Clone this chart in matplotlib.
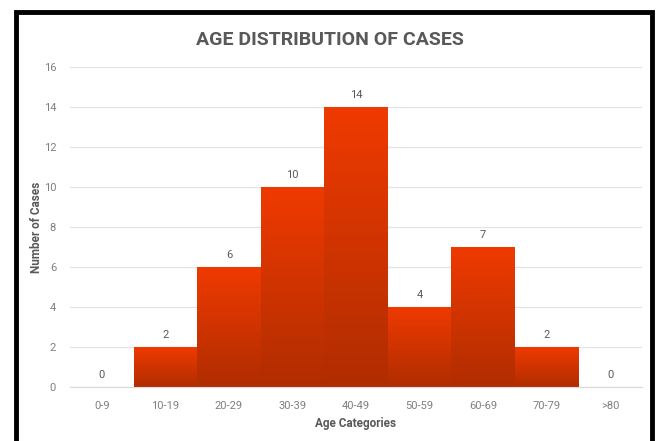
import matplotlib.pyplot as plt
import numpy as np
from matplotlib.patches import Rectangle
from matplotlib.colors import LinearSegmentedColormap

plt.rcParams['font.family'] = ['Roboto', 'DejaVu Sans']

categories = ['0-9', '10-19', '20-29', '30-39', '40-49', '50-59', '60-69', '70-79', '>80']
cases = [0, 2, 6, 10, 14, 4, 7, 2, 0]

fig = plt.figure(figsize=(6.59, 4.41), dpi=100)
ax = fig.add_axes([70 / 659, 1 - 387 / 441, 572 / 659, 320 / 441])

# gradient per bar: bright on top, darker at the bottom
cmap = LinearSegmentedColormap.from_list('bar', ['#B02D00', '#EF3A00'])
grad = np.linspace(0, 1, 256).reshape(-1, 1)
x = np.arange(len(categories))
for xi, h in zip(x, cases):
    if h <= 0:
        continue
    rect = Rectangle((xi - 0.5, 0), 1.0, h, facecolor='none', edgecolor='none')
    ax.add_patch(rect)
    im = ax.imshow(grad, cmap=cmap, origin='lower', aspect='auto',
                   extent=(xi - 0.5, xi + 0.5, 0, h), zorder=2)
    im.set_clip_path(rect)

for xi, h in zip(x, cases):
    ax.text(xi, h + 0.35, str(h), ha='center', va='bottom', fontsize=8, color='#595959')

ax.set_xlim(-0.5, len(categories) - 0.5)
ax.set_ylim(0, 16)
ax.set_yticks(range(0, 17, 2))
ax.set_xticks(x)
ax.set_xticklabels(categories)
ax.grid(axis='y', color='#e3e3e3', linewidth=0.9, zorder=0)
ax.set_axisbelow(True)
for s in ['top', 'right', 'left']:
    ax.spines[s].set_visible(False)
ax.spines['bottom'].set_color('#d9d9d9')
ax.tick_params(axis='both', length=0, labelsize=8, colors='#7f7f7f')
ax.tick_params(axis='x', pad=10)
ax.tick_params(axis='y', pad=10)

ax.set_xlabel('Age Categories', fontsize=8.5, fontweight='bold', color='#595959')
ax.set_ylabel('Number of Cases', fontsize=8.5, fontweight='bold', color='#595959')
ax.xaxis.set_label_coords(0.5, -30 / 320)
ax.yaxis.set_label_coords(-27 / 572, 0.5)
fig.text(0.5, 1 - 40 / 441, 'AGE DISTRIBUTION OF CASES', ha='center', va='center',
         fontsize=14, fontweight='bold', color='#595959')

# black frame around the chart
frame = Rectangle((16 / 659, -0.05), 636 / 659, 1.05 - 12 / 441, transform=fig.transFigure,
                  facecolor='none', edgecolor='black', linewidth=3.5, clip_on=False)
fig.patches.append(frame)

fig.savefig('out.png', dpi=100)
